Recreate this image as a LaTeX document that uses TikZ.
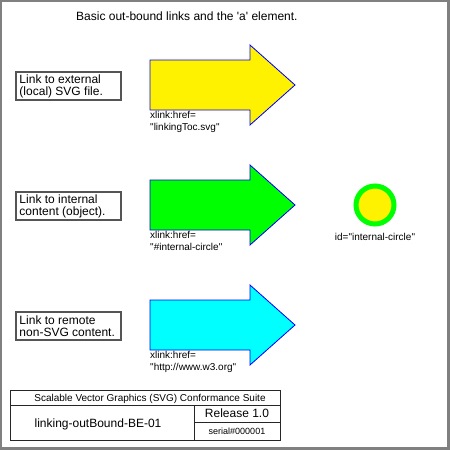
\documentclass[tikz,border=0pt]{standalone}
\usepackage{fontspec}
\newfontfamily\helv{Liberation Sans}
\usetikzlibrary{positioning}

\definecolor{framegray}{RGB}{128,128,128}
\definecolor{boxgray}{RGB}{85,85,85}
\definecolor{aqua}{RGB}{0,255,255}
\definecolor{lime}{RGB}{0,255,0}

\tikzset{
  linkbox/.style={draw=boxgray, line width=1.2pt, text width=98pt, inner xsep=3.5pt,
    inner ysep=0pt, minimum height=28pt, align=flush left,
    font=\helv\fontsize{12}{12}\selectfont},
  hrefnote/.style={anchor=base west, inner sep=0pt, align=left,
    font=\helv\fontsize{10}{12}\selectfont},
  bigarrow/.style={draw=blue, line width=0.8pt, line join=miter},
  legendrule/.style={draw=black!85, line width=1pt},
}

\begin{document}
\begin{tikzpicture}[x=1pt, y=-1pt]
        \useasboundingbox (0,0) rectangle (450,450);

        % Draw the grey frame
        \fill[framegray] (0,0) rectangle (450,450);
        \fill[white] (2,2) rectangle (447,447);

        % Title
        \node[anchor=base west, inner sep=0pt, font=\helv\fontsize{12}{14}\selectfont]
          (title) at (76,20) {Basic out-bound links and the 'a' element.};

        % Link descriptions
        \node[linkbox] (external) at (68.5,86) {Link to external\\(local) SVG file.};
        \node[linkbox] (internal) at (68.5,206) {Link to internal\\content (object).};
        \node[linkbox] (remote) at (68.5,326) {Link to remote\\non-SVG content.};

        % Draw the link arrows
        \foreach \y/\col in {85/yellow, 205/lime, 325/aqua}
          \draw[bigarrow, fill=\col] (150,\y-25) -- (250,\y-25) -- (250,\y-40)
            -- (295,\y) -- (250,\y+40) -- (250,\y+25) -- (150,\y+25) -- cycle;

        % Link targets (base is the second line)
        \node[hrefnote] (hrefext) at (150,130) {xlink:href=\\"linkingToc.svg"};
        \node[hrefnote] (hrefint) at (150,250) {xlink:href=\\"\#internal-circle"};
        \node[hrefnote] (hrefrem) at (150,370) {xlink:href=\\"http://www.w3.org"};

        % Internal target circle
        \node[circle, draw=lime, fill=yellow, line width=5pt, minimum size=38pt,
          inner sep=0pt] (target) at (375,205) {};
        \node[anchor=base, inner sep=0pt, font=\helv\fontsize{10}{12}\selectfont]
          (targetid) at (375,240) {id="internal-circle"};

        % Legend
        \draw[legendrule] (10,390) rectangle (280,440);
        \draw[legendrule] (10,405) -- (280,405);
        \draw[legendrule] (194,405) -- (194,440);
        \draw[legendrule] (194,422) -- (280,422);
        \node[anchor=base, inner sep=0pt, font=\helv\fontsize{10}{12}\selectfont]
          (suite) at (150,401) {Scalable Vector Graphics (SVG) Conformance Suite};
        \node[anchor=base, inner sep=0pt, font=\helv\fontsize{12}{14}\selectfont]
          (testname) at (98,427) {linking-outBound-BE-01};
        \node[anchor=base, inner sep=0pt, font=\helv\fontsize{12}{14}\selectfont]
          (release) at (237,417) {Release 1.0};
        \node[anchor=base, inner sep=0pt, font=\helv\fontsize{9}{11}\selectfont]
          (serial) at (237,434) {serial\#000001};
\end{tikzpicture}
\end{document}
